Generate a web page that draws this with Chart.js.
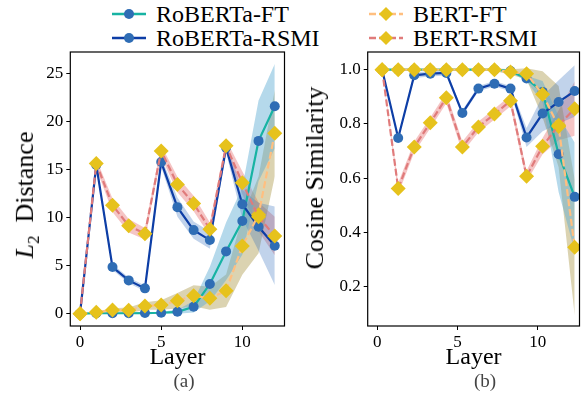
<html>
<head>
<title>L2 distance and cosine similarity per layer</title>
<script src="https://cdn.jsdelivr.net/npm/chart.js@4.4.0/dist/chart.umd.min.js"></script>
<style>
  body { margin: 0; width: 587px; height: 396px; position: relative; background: #fff; overflow: hidden;
         font-family: "Liberation Serif", "DejaVu Serif", serif; color: #000; }
  canvas { position: absolute; top: 0; }
  .leg { position: absolute; height: 24px; display: flex; align-items: center; font-size: 24px; white-space: nowrap; }
  .leg svg { margin-right: 10px; }
  .ytitle { position: absolute; font-size: 26px; white-space: nowrap; transform: translate(-50%, -50%) rotate(-90deg); }
  .cap { position: absolute; font-size: 19px; color: #444; transform: translate(-50%, -50%); }
</style>
</head>
<body>

<!-- legend -->
<div class="leg" style="left:112px; top:2px">
  <svg width="34" height="24"><line x1="0" y1="12" x2="34" y2="12" stroke="#17b3a3" stroke-width="2.5"/><circle cx="17" cy="12" r="5" fill="#2f6db5"/></svg>RoBERTa-FT</div>
<div class="leg" style="left:112px; top:26px">
  <svg width="34" height="24"><line x1="0" y1="12" x2="34" y2="12" stroke="#0d3ea6" stroke-width="2.5"/><circle cx="17" cy="12" r="5" fill="#2f6db5"/></svg>RoBERTa-RSMI</div>
<div class="leg" style="left:369px; top:2px">
  <svg width="34" height="24"><line x1="0" y1="12" x2="34" y2="12" stroke="#ffbf80" stroke-width="2.5" stroke-dasharray="7 3"/><path d="M17 5 L24 12 L17 19 L10 12 Z" fill="#e6c21c"/></svg>BERT-FT</div>
<div class="leg" style="left:369px; top:26px">
  <svg width="34" height="24"><line x1="0" y1="12" x2="34" y2="12" stroke="#e07b7b" stroke-width="2.5" stroke-dasharray="7 3"/><path d="M17 5 L24 12 L17 19 L10 12 Z" fill="#e6c21c"/></svg>BERT-RSMI</div>

<canvas id="l2Chart" width="292" height="396" style="left:0px"></canvas>
<canvas id="cosChart" width="292" height="396" style="left:295px"></canvas>

<div class="ytitle" style="left:27px; top:195px"><i>L</i><sub style="font-size:17px">2</sub>&nbsp; Distance</div>
<div class="ytitle" style="left:315px; top:178px">Cosine Similarity</div>
<div class="cap" style="left:184px; top:381px">(a)</div>
<div class="cap" style="left:485px; top:381px">(b)</div>

<script>
  // x positions (the cosine panel is plotted slightly shifted)
  const layersA = [0, 1, 2, 3, 4, 5, 6, 7, 8, 9, 10, 11, 12]
  const layersB = [0.3, 1.3, 2.3, 3.3, 4.3, 5.3, 6.3, 7.3, 8.3, 9.3, 10.3, 11.3, 12.3]
  const layerTicks = [0, 5, 10]

  // (a) L2 distance
  const l2RobertaFT   = [0, 0.05, 0.05, 0.05, 0.07, 0.1, 0.2, 0.73, 3.09, 6.49, 9.65, 18.0, 21.6]
  const l2RobertaRSMI = [0, 15.5, 4.86, 3.47, 2.64, 15.8, 11.1, 8.71, 7.67, 17.3, 11.4, 9.05, 7.08]
  const l2BertFT      = [0, 0.14, 0.38, 0.35, 0.8, 0.9, 1.35, 1.87, 1.6, 2.39, 7.05, 10.3, 18.8]
  const l2BertRSMI    = [0, 15.65, 11.3, 9.16, 8.33, 16.96, 13.46, 11.48, 8.81, 17.49, 13.64, 10.1, 8.09]
  const l2RobertaFTStd   = [0, 0.05, 0.05, 0.05, 0.05, 0.1, 0.2, 0.6, 1.8, 3.0, 3.5, 4.2, 4.4]
  const l2RobertaRSMIStd = [0, 0.3, 0.3, 0.3, 0.3, 0.5, 1.0, 0.9, 0.9, 0.5, 1.5, 2.5, 4.1]
  const l2BertFTStd      = [0, 0.1, 0.2, 0.3, 0.4, 0.5, 0.8, 1.1, 1.2, 1.7, 3.0, 4.0, 4.5]
  const l2BertRSMIStd    = [0, 0.5, 0.7, 0.7, 0.6, 0.6, 0.8, 0.8, 0.7, 0.6, 1.2, 1.5, 2.0]
  const l2Ticks = [0, 5, 10, 15, 20, 25]

  // (b) cosine similarity
  const cosRobertaFT   = [1, 1, 1, 1, 1, 1, 1, 1, 0.995, 0.967, 0.918, 0.688, 0.531]
  const cosRobertaRSMI = [1, 0.748, 0.979, 0.985, 0.988, 0.84, 0.93, 0.948, 0.93, 0.75, 0.838, 0.881, 0.921]
  const cosBertFT      = [1, 1, 1, 1, 1, 1, 1, 1, 0.991, 0.985, 0.909, 0.79, 0.345]
  const cosBertRSMI    = [1, 0.562, 0.715, 0.804, 0.896, 0.715, 0.789, 0.836, 0.885, 0.607, 0.718, 0.795, 0.856]
  const cosRobertaFTStd   = [0, 0, 0, 0, 0, 0, 0, 0, 0.005, 0.01, 0.04, 0.14, 0.2]
  const cosRobertaRSMIStd = [0, 0.005, 0.01, 0.01, 0.01, 0.01, 0.01, 0.01, 0.01, 0.035, 0.065, 0.08, 0.095]
  const cosBertFTStd      = [0, 0, 0, 0, 0, 0, 0, 0.005, 0.01, 0.02, 0.085, 0.15, 0.25]
  const cosBertRSMIStd    = [0, 0.02, 0.02, 0.02, 0.02, 0.02, 0.02, 0.02, 0.02, 0.02, 0.03, 0.055, 0.1]
  const cosTicks = [0.2, 0.4, 0.6, 0.8, 1.0]

  Chart.defaults.font.family = '"Liberation Serif", serif'
  Chart.defaults.color = '#000'

  const styles = [
    { line: '#17b3a3', band: 'rgba(90,170,210,0.45)', marker: '#2f6db5', shape: 'circle', r: 5, dash: [], order: 4 },
    { line: '#0d3ea6', band: 'rgba(50,110,190,0.3)',  marker: '#2f6db5', shape: 'circle', r: 5, dash: [], order: 3 },
    { line: '#ffbf80', band: 'rgba(165,145,60,0.4)',  marker: '#e6c21c', shape: 'rectRot', r: 7.5, dash: [7, 3], order: 2 },
    { line: '#e07b7b', band: 'rgba(230,110,110,0.4)', marker: '#e6c21c', shape: 'rectRot', r: 7.5, dash: [7, 3], order: 1 },
  ]

  // black box around the plot area, like matplotlib spines
  const boxPlugin = {
    id: 'box',
    afterDraw(chart) {
      const a = chart.chartArea
      const c = chart.ctx
      c.save()
      c.strokeStyle = '#000'
      c.lineWidth = 1.2
      c.strokeRect(a.left, a.top, a.right - a.left, a.bottom - a.top)
      c.restore()
    }
  }

  function pts(xs, ys) {
    return xs.map((x, i) => ({ x: x, y: ys[i] }))
  }

  function makeChart(id, xs, means, stds, yTicks, yMin, yMax, yWidth, padRight, fmt) {
    let datasets = []
    // bands first
    for (let k = 0; k < means.length; k++) {
      let upper = means[k].map((v, i) => v + stds[k][i])
      let lower = means[k].map((v, i) => v - stds[k][i])
      datasets.push({ data: pts(xs, upper), borderWidth: 0, pointRadius: 0, fill: false, order: 10 })
      datasets.push({ data: pts(xs, lower), borderWidth: 0, pointRadius: 0, fill: '-1',
                      backgroundColor: styles[k].band, order: 10 })
    }
    for (let k = 0; k < means.length; k++) {
      let s = styles[k]
      datasets.push({
        data: pts(xs, means[k]),
        borderColor: s.line,
        borderWidth: 2.2,
        borderDash: s.dash,
        pointStyle: s.shape,
        pointRadius: s.r,
        pointBackgroundColor: s.marker,
        pointBorderColor: s.marker,
        pointBorderWidth: 0,
        fill: false,
        tension: 0,
        order: s.order
      })
    }

    new Chart(document.getElementById(id), {
      type: 'line',
      data: { datasets: datasets },
      options: {
        responsive: false,
        animation: false,
        devicePixelRatio: 1,
        layout: { padding: { top: 52, right: padRight, bottom: 0, left: 0 } },
        plugins: { legend: { display: false }, tooltip: { enabled: false } },
        scales: {
          x: {
            type: 'linear', min: -0.6, max: 12.6,
            afterFit: (s) => { s.height = 70 },
            afterBuildTicks: (s) => { s.ticks = layerTicks.map(v => ({ value: v })) },
            grid: { drawOnChartArea: false, drawTicks: true, tickLength: 4, color: '#000' },
            border: { display: false },
            ticks: { font: { family: 'Liberation Serif', size: 17 }, padding: 2, maxRotation: 0 },
            title: { display: true, text: 'Layer', font: { family: 'Liberation Serif', size: 24 }, padding: { top: 0, bottom: 24 } }
          },
          y: {
            type: 'linear', min: yMin, max: yMax,
            afterFit: (s) => { s.width = yWidth },
            afterBuildTicks: (s) => { s.ticks = yTicks.map(v => ({ value: v })) },
            grid: { drawOnChartArea: false, drawTicks: true, tickLength: 4, color: '#000' },
            border: { display: false },
            ticks: { font: { family: 'Liberation Serif', size: 17 }, padding: 3, callback: fmt }
          }
        }
      },
      plugins: [boxPlugin]
    })
  }

  makeChart('l2Chart', layersA,
    [l2RobertaFT, l2RobertaRSMI, l2BertFT, l2BertRSMI],
    [l2RobertaFTStd, l2RobertaRSMIStd, l2BertFTStd, l2BertRSMIStd],
    l2Ticks, -1.28, 27.26, 70.3, 3.3, (v) => String(v))

  makeChart('cosChart', layersB,
    [cosRobertaFT, cosRobertaRSMI, cosBertFT, cosBertRSMI],
    [cosRobertaFTStd, cosRobertaRSMIStd, cosBertFTStd, cosBertRSMIStd],
    cosTicks, 0.055, 1.065, 72.7, 2, (v) => v.toFixed(1))
</script>
</body>
</html>
